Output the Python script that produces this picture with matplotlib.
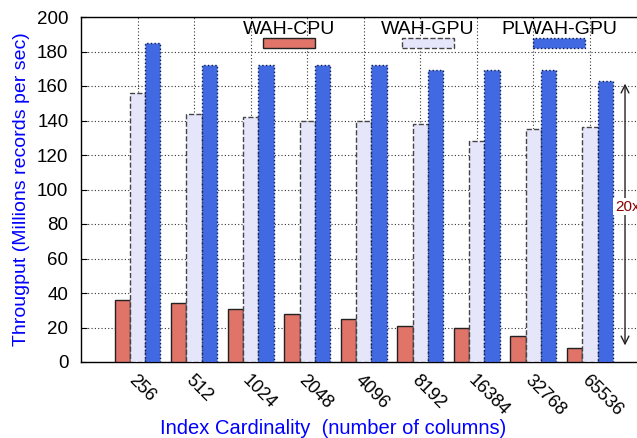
import matplotlib
matplotlib.use('Agg')
import matplotlib.pyplot as plt
from matplotlib.patches import Rectangle

# data
cardinality = ['256', '512', '1024', '2048', '4096', '8192', '16384', '32768', '65536']
wah_cpu = [36, 34, 31, 28, 25, 21, 20, 15, 8]
wah_gpu = [156, 144, 142, 140, 140, 138, 128, 135, 136]
plwah_gpu = [185, 172, 172, 172, 172, 169, 169, 169, 163]
series_names = ['WAH-CPU', 'WAH-GPU', 'PLWAH-GPU']

plt.rcParams['font.family'] = ['Liberation Sans', 'DejaVu Sans']

W, H = 637, 438
fig = plt.figure(figsize=(W / 100, H / 100), dpi=100)
# axes frame runs from x=81 to past the right edge, y=17..362 px
ax = fig.add_axes([81 / W, (H - 362) / H, (640 - 81) / W, 345 / H])

x = list(range(len(cardinality)))
bw = 0.27
styles = [
    dict(color='#e07468', edgecolor='#222222', linewidth=1.0, linestyle='-'),
    dict(color='#e6e6fa', edgecolor='#444444', linewidth=1.0, linestyle='--'),
    dict(color='#4169e1', edgecolor='#0a1a50', linewidth=1.0, linestyle=':'),
]
for k, vals in enumerate([wah_cpu, wah_gpu, plwah_gpu]):
    ax.bar([i + (k - 1) * bw for i in x], vals, width=bw, zorder=3, **styles[k])

ax.set_xlim(-1.0, 8.885)
ax.set_ylim(0, 200)
ax.set_yticks(range(0, 201, 20))
ax.set_xticks(x)
ax.set_xticklabels(cardinality, rotation=-45, ha='left', va='top',
                   rotation_mode='anchor', fontsize=13)
ax.tick_params(axis='x', length=0, pad=7)
ax.tick_params(axis='y', direction='in', length=4, labelsize=13.5, pad=9)
ax.grid(True, linestyle=(0, (1, 2)), color='#333333', linewidth=0.8, zorder=0)
ax.set_axisbelow(True)
for s in ax.spines.values():
    s.set_linewidth(1.0)

ax.set_ylabel('Througput (Millions records per sec)', color='blue', fontsize=14, labelpad=5)
# x label placed like gnuplot does, independent of the rotated tick labels
fig.text(333 / W, 1 - 428 / H, 'Index Cardinality  (number of columns)',
         color='blue', fontsize=14.5, ha='center', va='center')

# speed-up arrow
ax.annotate('', xy=(8.62, 8), xytext=(8.62, 163),
            arrowprops=dict(arrowstyle='<->', color='#222222', lw=1.0,
                            mutation_scale=14), zorder=4)
ax.text(8.44, 90, '20x', color='#8b0000', fontsize=11, ha='left', va='center',
        bbox=dict(facecolor='white', edgecolor='none', pad=1), zorder=5)

# gnuplot-style key: title above its sample box
key_x = [289, 428, 559]
for name, cx, st in zip(series_names, key_x, styles):
    fig.text(cx / W, 1 - 30 / H, name, ha='center', va='center', fontsize=14)
    fig.patches.append(Rectangle(((cx - 26) / W, 1 - 48 / H), 52 / W, 10 / H,
                                 transform=fig.transFigure, facecolor=st['color'],
                                 edgecolor=st['edgecolor'], linestyle=st['linestyle'],
                                 linewidth=1.0, zorder=5))

fig.savefig('out.png', dpi=100)
